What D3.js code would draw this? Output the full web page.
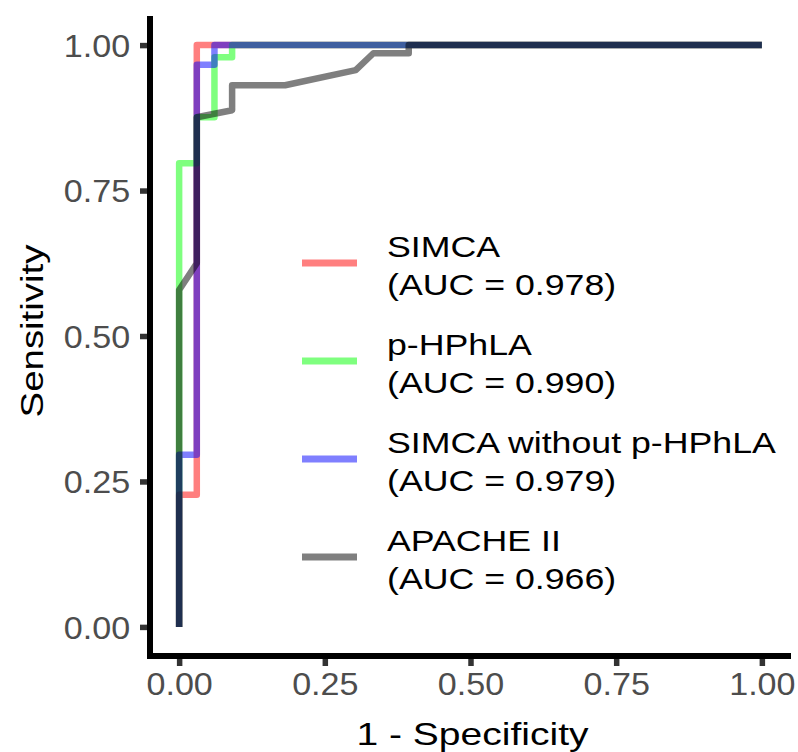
<!DOCTYPE html>
<html>
<head>
<meta charset="utf-8">
<script src="https://cdn.jsdelivr.net/npm/d3@7"></script>
<style>
  body { margin: 0; background: #fff; }
  text { font-family: "Liberation Sans", Arial, sans-serif; }
</style>
</head>
<body>
<div id="chart"></div>
<script>
// ROC curves, values
const seriesNames = ['SIMCA', 'p-HPhLA', 'SIMCA without p-HPhLA', 'APACHE II'];
const aucLabels = ['(AUC = 0.978)', '(AUC = 0.990)', '(AUC = 0.979)', '(AUC = 0.966)'];
const seriesColors = ['#ff0000', '#00ff00', '#0000ff', '#000000'];

const simcaFpr = [0, 0, 0.0303, 0.0303, 1];
const simcaSens = [0, 0.227, 0.227, 1, 1];
const hphlaFpr = [0, 0, 0.0303, 0.0303, 0.0606, 0.0606, 0.0909, 0.0909, 1];
const hphlaSens = [0, 0.797, 0.797, 0.876, 0.876, 0.979, 0.979, 1, 1];
const noHphlaFpr = [0, 0, 0.0303, 0.0303, 0.0606, 0.0606, 1];
const noHphlaSens = [0, 0.296, 0.296, 0.966, 0.966, 1, 1];
const apacheFpr = [0, 0, 0.0303, 0.0303, 0.0909, 0.0909, 0.1818, 0.303, 0.3333, 0.394, 0.394, 1];
const apacheSens = [0, 0.579, 0.625, 0.876, 0.888, 0.931, 0.931, 0.957, 0.986, 0.986, 1, 1];

const xTicks = [0, 0.25, 0.5, 0.75, 1];
const yTicks = [0, 0.25, 0.5, 0.75, 1];

const W = 798, H = 752;
const PANEL = { LEFT: 150, RIGHT: 791, TOP: 16, BOTTOM: 656 };

const curves = [
  [simcaFpr, simcaSens],
  [hphlaFpr, hphlaSens],
  [noHphlaFpr, noHphlaSens],
  [apacheFpr, apacheSens]
];

const svg = d3.select('#chart').append('svg')
  .attr('width', W)
  .attr('height', H);

// ggplot style 5% expansion on both axes
const x = d3.scaleLinear().domain([-0.05, 1.05]).range([PANEL.LEFT, PANEL.RIGHT]);
const y = d3.scaleLinear().domain([-0.05, 1.05]).range([PANEL.BOTTOM, PANEL.TOP]);

const line = d3.line().x(d => x(d[0])).y(d => y(d[1]));

curves.forEach(function (c, i) {
  const pts = c[0].map((v, j) => [v, c[1][j]]);
  svg.append('path')
    .datum(pts)
    .attr('d', line)
    .attr('fill', 'none')
    .attr('stroke', seriesColors[i])
    .attr('stroke-opacity', 0.5)
    .attr('stroke-width', 6.5)
    .attr('stroke-linejoin', 'round');
});

// axes
const xAxis = d3.axisBottom(x).tickValues(xTicks).tickFormat(d3.format('.2f')).tickSize(10).tickPadding(8);
const yAxis = d3.axisLeft(y).tickValues(yTicks).tickFormat(d3.format('.2f')).tickSize(10).tickPadding(8);

const gx = svg.append('g')
  .attr('transform', 'translate(0,' + PANEL.BOTTOM + ')')
  .call(xAxis);
const gy = svg.append('g')
  .attr('transform', 'translate(' + PANEL.LEFT + ',0)')
  .call(yAxis);

[gx, gy].forEach(function (g) {
  g.select('.domain').remove();
  g.selectAll('.tick line').attr('stroke', '#333333').attr('stroke-width', 5.5);
  g.selectAll('.tick text')
    .attr('fill', '#4d4d4d')
    .attr('transform', 'scale(1.1,1)')
    .style('font-size', '31px')
    .style('font-family', '"Liberation Sans", Arial, sans-serif');
});
gx.selectAll('.tick text').attr('dy', '0.71em').attr('y', 17);
gy.selectAll('.tick text').attr('dy', '0.36em').attr('x', -18);

// axis lines drawn on top
svg.append('line')
  .attr('x1', PANEL.LEFT).attr('x2', PANEL.LEFT)
  .attr('y1', PANEL.TOP).attr('y2', PANEL.BOTTOM + 3)
  .attr('stroke', '#000').attr('stroke-width', 6);
svg.append('line')
  .attr('x1', PANEL.LEFT - 3).attr('x2', PANEL.RIGHT)
  .attr('y1', PANEL.BOTTOM).attr('y2', PANEL.BOTTOM)
  .attr('stroke', '#000').attr('stroke-width', 6);

// axis titles
svg.append('text')
  .attr('transform', 'translate(' + ((PANEL.LEFT + PANEL.RIGHT) / 2 + 2) + ',745) scale(1.22,1)')
  .attr('text-anchor', 'middle')
  .style('font-size', '32px')
  .attr('fill', '#000')
  .text('1 - Specificity');

svg.append('text')
  .attr('transform', 'translate(43,331) rotate(-90) scale(1.2,1)')
  .attr('text-anchor', 'middle')
  .style('font-size', '32px')
  .attr('fill', '#000')
  .text('Sensitivity');

// legend
const legend = svg.append('g').attr('transform', 'translate(302,263)');
seriesNames.forEach(function (name, i) {
  const g = legend.append('g').attr('transform', 'translate(0,' + (i * 98) + ')');
  g.append('line')
    .attr('x1', 0).attr('x2', 55)
    .attr('y1', 0).attr('y2', 0)
    .attr('stroke', seriesColors[i])
    .attr('stroke-opacity', 0.5)
    .attr('stroke-width', 7);
  g.append('text')
    .attr('transform', 'translate(85,-6) scale(1.19,1)')
    .style('font-size', '30px')
    .attr('fill', '#000')
    .text(name);
  g.append('text')
    .attr('transform', 'translate(85,32) scale(1.19,1)')
    .style('font-size', '30px')
    .attr('fill', '#000')
    .text(aucLabels[i]);
});
</script>
</body>
</html>
